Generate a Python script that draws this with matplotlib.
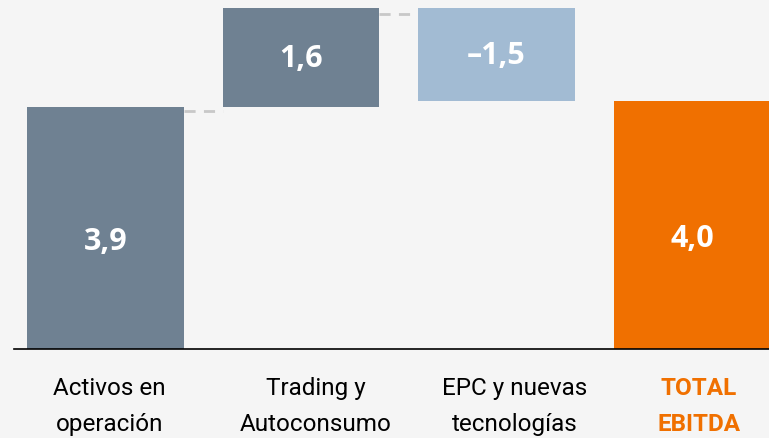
import matplotlib.pyplot as plt
import matplotlib.transforms as mtransforms

# datos del gráfico (cascada EBITDA)
categorias = ["Activos en\noperación", "Trading y\nAutoconsumo", "EPC y nuevas\ntecnologías", "TOTAL\nEBITDA"]
valores = [3.9, 1.6, -1.5, 4.0]
etiquetas = ["3,9", "1,6", "–1,5", "4,0"]

gris = "#6f8192"
azul_claro = "#a2bbd3"
naranja = "#f07000"
colores = [gris, gris, azul_claro, naranja]

fondo = "#f5f5f5"

fig = plt.figure(figsize=(7.69, 4.38), dpi=100)
fig.patch.set_facecolor(fondo)
ax = fig.add_axes([14 / 769, 89 / 438, 1 - 14 / 769, 349 / 438])
ax.set_facecolor(fondo)

# bases de la cascada
bases = []
acum = 0
for i, v in enumerate(valores):
    if i == len(valores) - 1:
        bases.append(0)
    elif v >= 0:
        bases.append(acum)
        acum += v
    else:
        acum += v
        bases.append(acum)
alturas = [abs(v) for v in valores]

x = list(range(len(categorias)))
w = 0.8
ax.bar(x, alturas, bottom=bases, width=w, color=colores, linewidth=0, zorder=2)

# líneas de conexión
nivel = 0
for i in range(len(valores) - 2):
    nivel += valores[i]
    off = 0.06 if i == 0 else 0.1
    ax.plot([i + w / 2, i + 1 - w / 2], [nivel - off, nivel - off], color="#c8c8c8",
            lw=2, dashes=(4, 3), zorder=1)

# etiquetas de valor (las barras altas llevan el texto algo más abajo)
for i in x:
    dy = -10 if alturas[i] > 3 else -1
    ax.annotate(etiquetas[i], (i, bases[i] + alturas[i] / 2), xytext=(0, dy),
                textcoords="offset points", ha="center", va="center",
                color="white", fontsize=22, fontweight="bold", family="Open Sans", zorder=3)

ax.set_xlim(-0.468, 3.394)
ax.set_ylim(0, 5.63)
ax.set_yticks([])
ax.set_xticks(x)
ax.set_xticklabels(categorias, fontsize=17.5, family="Roboto", linespacing=1.75)
ax.tick_params(axis="x", length=0, pad=20)
desplaz = [4, 15, 18, 7]
for lab, d in zip(ax.get_xticklabels(), desplaz):
    lab.set_transform(lab.get_transform() + mtransforms.ScaledTranslation(d / 100, 0, fig.dpi_scale_trans))
lab = ax.get_xticklabels()[-1]
lab.set_color(naranja)
lab.set_fontweight("bold")

for s in ["top", "right", "left"]:
    ax.spines[s].set_visible(False)
ax.spines["bottom"].set_color("black")
ax.spines["bottom"].set_linewidth(1.2)
ax.spines["bottom"].set_zorder(4)

fig.savefig("out.png", dpi=100, facecolor=fondo)
